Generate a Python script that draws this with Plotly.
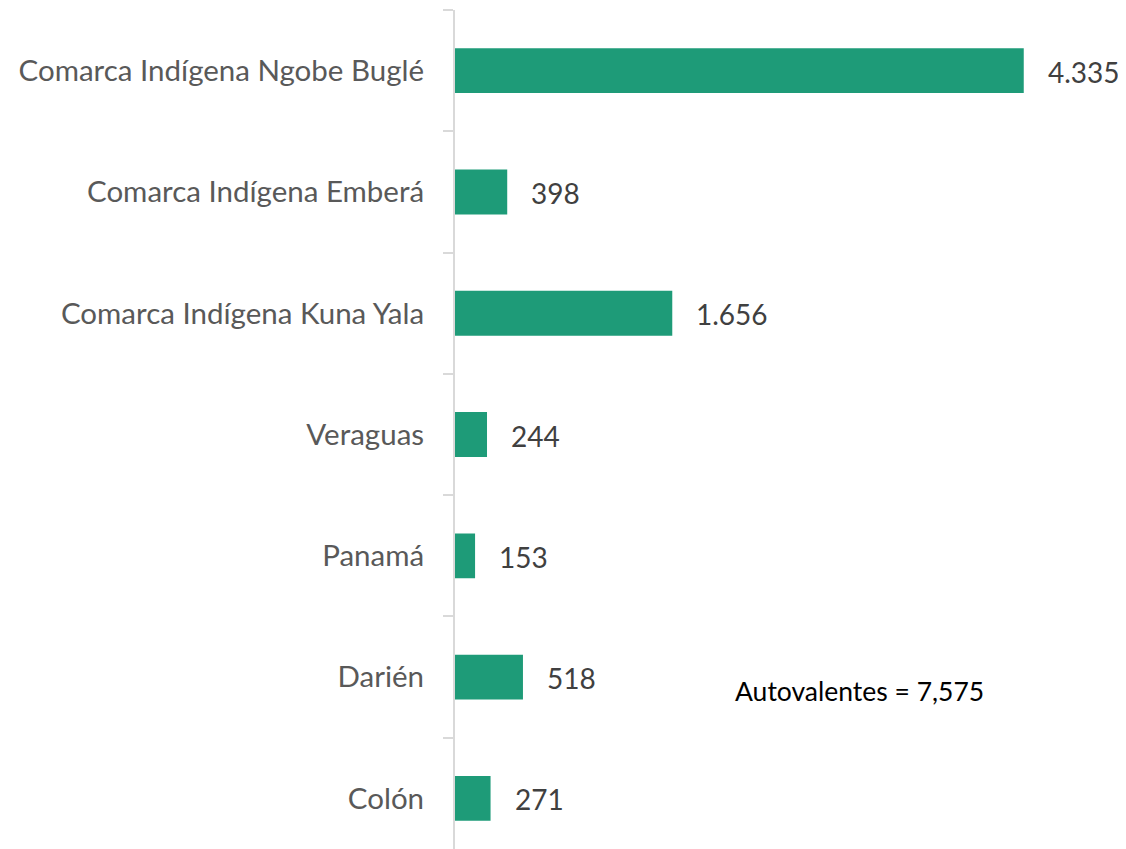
import plotly.graph_objects as go

categories = ["Comarca Indígena Ngobe Buglé", "Comarca Indígena Emberá",
              "Comarca Indígena Kuna Yala", "Veraguas", "Panamá", "Darién", "Colón"]
values = [4335, 398, 1656, 244, 153, 518, 271]
value_labels = ["4.335", "398", "1.656", "244", "153", "518", "271"]
note_text = "Autovalentes = 7,575"

FONT = "Lato"
BAR = "#1e9b78"

# page body has an 8px margin
OFF = 8
W, H = 1126 - OFF, 849 - OFF
L, T = 455 - OFF, 10 - OFF
plot_w = 656

fig = go.Figure()
fig.add_trace(go.Bar(
    x=values, y=categories, orientation="h",
    marker=dict(color=BAR, line=dict(width=0)),
    width=0.37, hoverinfo="skip",
))

for c, v, lab in zip(categories, values, value_labels):
    fig.add_annotation(x=v, y=c, xref="x", yref="y", text=lab, showarrow=False,
                       xanchor="left", yanchor="middle", xshift=22, yshift=-1,
                       font=dict(family=FONT, size=28, color="#404040"))

fig.add_annotation(x=(733 - OFF - L) / plot_w, y=1 - (691 - OFF - T) / (H - T),
                   xref="paper", yref="paper", text=note_text,
                   showarrow=False, xanchor="left", yanchor="middle",
                   font=dict(family=FONT, size=26.5, color="#000000"))

fig.update_layout(
    width=W, height=H,
    margin=dict(l=L, r=W - L - plot_w, t=T, b=0),
    paper_bgcolor="white", plot_bgcolor="white",
    showlegend=False,
    xaxis=dict(range=[0, 5000], visible=False, showgrid=False, zeroline=False),
    yaxis=dict(
        categoryorder="array", categoryarray=categories,
        range=[6.417, -0.5],
        showline=True, linecolor="#d9d9d9", linewidth=2,
        ticks="outside", ticklen=10, tickcolor="#d9d9d9", tickwidth=2,
        tickson="boundaries", ticklabelstandoff=23,
        tickfont=dict(family=FONT, size=29.5, color="#595959"),
        showgrid=False, zeroline=False,
    ),
)

fig.write_html("out.html")
